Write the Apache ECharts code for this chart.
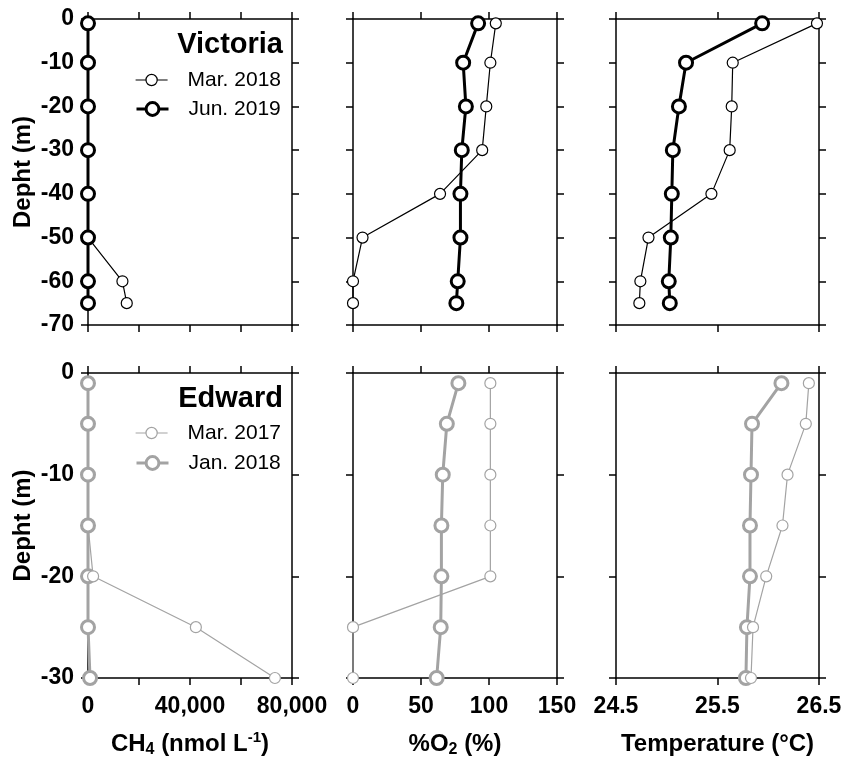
<!DOCTYPE html>
<html>
<head>
<meta charset="utf-8">
<script src="https://cdn.jsdelivr.net/npm/echarts@6/dist/echarts.min.js"></script>
<style>
  html, body { margin: 0; padding: 0; background: #fff; }
  #chart { width: 847px; height: 765px; }
</style>
</head>
<body>
<div id="chart"></div>
<script>
// Sampling depths (m)
const depthVictoria = [-1, -10, -20, -30, -40, -50, -60, -65];
const depthEdward = [-1, -5, -10, -15, -20, -25, -30];

// Lake Victoria profiles
const ch4Mar2018 = [0, 0, 0, 0, 0, 0, 13500, 15200];
const ch4Jun2019 = [0, 0, 0, 0, 0, 0, 0, 0];
const o2Mar2018 = [105, 101, 98, 95, 64, 7, 0, 0];
const o2Jun2019 = [92, 81, 83, 80, 79, 79, 77, 76];
const tMar2018 = [26.48, 25.65, 25.64, 25.62, 25.44, 24.82, 24.74, 24.73];
const tJun2019 = [25.94, 25.19, 25.12, 25.06, 25.05, 25.04, 25.02, 25.03];

// Lake Edward profiles
const ch4Mar2017 = [0, 0, 0, 0, 2000, 42300, 73300];
const ch4Jan2018 = [0, 0, 0, 0, 0, 0, 800];
const o2Mar2017 = [101, 101, 101, 101, 101, 0, 0];
const o2Jan2018 = [77.5, 69, 66, 65, 65, 64.5, 61.5];
const tMar2017 = [26.40, 26.37, 26.19, 26.14, 25.98, 25.85, 25.83];
const tJan2018 = [26.13, 25.84, 25.83, 25.82, 25.82, 25.79, 25.78];

// Axis scales and the tick values that carry a label
const ch4Labels = [0, 40000, 80000];
const o2Labels = [0, 50, 100, 150];
const tempLabels = [24.5, 25.5, 26.5];
const depthLabelsVictoria = [0, -10, -20, -30, -40, -50, -60, -70];
const depthLabelsEdward = [0, -10, -20, -30];

const FONT = '"Liberation Sans", Arial, Helvetica, sans-serif';
const BLACK = '#000';
const GREY = '#a3a3a3';

function pairs(xs, ys) { return xs.map((v, i) => [v, ys[i]]); }
function thousands(v) { return String(v).replace(/\B(?=(\d{3})+(?!\d))/g, ','); }

const scales = {
  ch4: { min: 0, max: 80000, interval: 20000,
         format: v => ch4Labels.includes(v) ? thousands(v) : '' },
  o2: { min: 0, max: 150, interval: 50,
        format: v => o2Labels.includes(v) ? String(v) : '' },
  temp: { min: 24.5, max: 26.5, interval: 1,
          format: v => tempLabels.some(t => Math.abs(t - v) < 1e-6) ? v.toFixed(1) : '' }
};

const axisLine = { show: true, onZero: false, lineStyle: { color: BLACK, width: 1.5 } };
const axisTick = { show: true, inside: false, length: 7, lineStyle: { color: BLACK, width: 1.5 } };
const labelStyle = { color: BLACK, fontSize: 23, fontWeight: 'bold', fontFamily: FONT };
const nameFont = { color: BLACK, fontWeight: 'bold', fontFamily: FONT };

const grids = [
  { left: 88, top: 19, width: 204, height: 306 },
  { left: 353, top: 19, width: 204, height: 306 },
  { left: 616, top: 19, width: 203, height: 306 },
  { left: 88, top: 373, width: 204, height: 305 },
  { left: 353, top: 373, width: 204, height: 305 },
  { left: 616, top: 373, width: 203, height: 305 }
].map(g => Object.assign({ outerBoundsMode: 'none', containLabel: false }, g));

const xNames = {
  ch4: '{b|CH}{s|4}{b| (nmol L}{p|-1}{b|)}',
  o2: '{b|%O}{s|2}{b| (%)}',
  temp: '{b|Temperature (°C)}'
};
const richName = {
  b: Object.assign({ fontSize: 24, lineHeight: 28 }, nameFont),
  s: Object.assign({ fontSize: 16, lineHeight: 16, verticalAlign: 'bottom' }, nameFont),
  p: Object.assign({ fontSize: 15, lineHeight: 15, verticalAlign: 'top' }, nameFont)
};

const xAxis = [];
const yAxis = [];
const panelKinds = ['ch4', 'o2', 'temp', 'ch4', 'o2', 'temp'];
panelKinds.forEach((kind, g) => {
  const s = scales[kind];
  const bottomRow = g >= 3;
  const base = {
    type: 'value', gridIndex: g, min: s.min, max: s.max, interval: s.interval,
    splitLine: { show: false }, axisLine, axisTick
  };
  xAxis.push(Object.assign({}, base, {
    position: 'bottom',
    axisLabel: Object.assign({ show: bottomRow, margin: 17, formatter: s.format }, labelStyle),
    name: bottomRow ? xNames[kind] : '',
    nameLocation: 'middle', nameGap: 52,
    nameTextStyle: { rich: richName }
  }));
  xAxis.push(Object.assign({}, base, { position: 'top', axisLabel: { show: false } }));

  const yMin = bottomRow ? -30 : -70;
  const yBase = {
    type: 'value', gridIndex: g, min: yMin, max: 0, interval: 10,
    splitLine: { show: false }, axisLine, axisTick
  };
  const firstCol = g % 3 === 0;
  const yLabels = bottomRow ? depthLabelsEdward : depthLabelsVictoria;
  yAxis.push(Object.assign({}, yBase, {
    position: 'left',
    axisLabel: Object.assign({ show: firstCol, margin: 14,
      formatter: v => yLabels.includes(v) ? String(v) : '' }, labelStyle),
    name: firstCol ? 'Depht (m)' : '',
    nameLocation: 'middle', nameGap: 53,
    nameTextStyle: Object.assign({ fontSize: 24 }, nameFont)
  }));
  yAxis.push(Object.assign({}, yBase, { position: 'right', axisLabel: { show: false } }));
});

function profile(name, g, xs, depths, color, bold) {
  const w = bold ? 3 : 1.2;
  return {
    name, type: 'line', xAxisIndex: 2 * g, yAxisIndex: 2 * g,
    data: pairs(xs, depths),
    symbol: 'circle', symbolSize: bold ? 13 : 11,
    lineStyle: { color, width: w },
    itemStyle: { color: '#fff', borderColor: color, borderWidth: w },
    clip: false, z: bold ? 3 : 2,
    emphasis: { disabled: true }, silent: true
  };
}

const series = [
  // Lake Victoria
  profile('Mar. 2018', 0, ch4Mar2018, depthVictoria, BLACK, false),
  profile('Jun. 2019', 0, ch4Jun2019, depthVictoria, BLACK, true),
  profile('Mar. 2018', 1, o2Mar2018, depthVictoria, BLACK, false),
  profile('Jun. 2019', 1, o2Jun2019, depthVictoria, BLACK, true),
  profile('Mar. 2018', 2, tMar2018, depthVictoria, BLACK, false),
  profile('Jun. 2019', 2, tJun2019, depthVictoria, BLACK, true),
  // Lake Edward
  profile('Jan. 2018', 3, ch4Jan2018, depthEdward, GREY, true),
  profile('Mar. 2017', 3, ch4Mar2017, depthEdward, GREY, false),
  profile('Jan. 2018', 4, o2Jan2018, depthEdward, GREY, true),
  profile('Mar. 2017', 4, o2Mar2017, depthEdward, GREY, false),
  profile('Jan. 2018', 5, tJan2018, depthEdward, GREY, true),
  profile('Mar. 2017', 5, tMar2017, depthEdward, GREY, false)
];
// Edward: the March profile sits above the January one
series.forEach(s => { if (s.name === 'Mar. 2017') s.z = 4; });

function legendRow(name, top, color, bold) {
  const w = bold ? 3 : 1.2;
  return {
    data: [name], left: 135, top, orient: 'vertical', padding: 0,
    itemWidth: 32, itemHeight: bold ? 16 : 14,
    selectedMode: false,
    lineStyle: { color, width: w },
    itemStyle: { color: '#fff', borderColor: color, borderWidth: w },
    textStyle: { color: BLACK, fontSize: 21, lineHeight: 22, fontFamily: FONT, padding: [0, 0, 0, 15] }
  };
}

const option = {
  animation: false,
  backgroundColor: '#fff',
  grid: grids,
  xAxis, yAxis, series,
  legend: [
    legendRow('Mar. 2018', 69, BLACK, false),
    legendRow('Jun. 2019', 98, BLACK, true),
    legendRow('Mar. 2017', 422, GREY, false),
    legendRow('Jan. 2018', 452, GREY, true)
  ],
  graphic: [
    { type: 'text', style: { text: 'Victoria', x: 283, y: 45, align: 'right', verticalAlign: 'middle',
      font: 'bold 29px ' + FONT, fill: BLACK } },
    { type: 'text', style: { text: 'Edward', x: 283, y: 399, align: 'right', verticalAlign: 'middle',
      font: 'bold 29px ' + FONT, fill: BLACK } }
  ]
};

const chart = echarts.init(document.getElementById('chart'), null, { renderer: 'canvas' });
chart.setOption(option);
</script>
</body>
</html>
